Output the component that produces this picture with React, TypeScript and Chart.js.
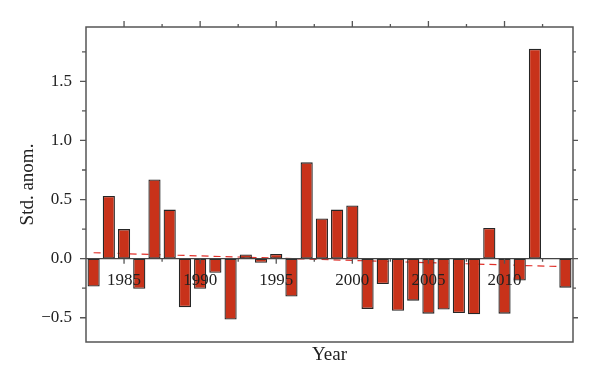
import React, { useEffect, useRef } from 'react';
import { Chart, registerables } from 'chart.js';

Chart.register(...registerables);

const years = [
  1983, 1984, 1985, 1986, 1987, 1988, 1989, 1990, 1991, 1992, 1993, 1994, 1995, 1996, 1997, 1998,
  1999, 2000, 2001, 2002, 2003, 2004, 2005, 2006, 2007, 2008, 2009, 2010, 2011, 2012, 2013, 2014,
];
const anomalies = [
  -0.235, 0.53, 0.25, -0.255, 0.67, 0.415, -0.41, -0.255, -0.12, -0.515, 0.035, -0.035, 0.04, -0.32, 0.815, 0.34,
  0.415, 0.45, -0.425, -0.215, -0.44, -0.355, -0.465, -0.43, -0.46, -0.47, 0.26, -0.465, -0.185, 1.775, 0.005, -0.245,
];
const trendYears = [1983, 2014];
const trendValues = [0.05, -0.068];
const xMajorTicks = [1985, 1990, 1995, 2000, 2005, 2010];
const xMinorTicks = [1987.5, 1992.5, 1997.5, 2002.5, 2007.5, 2012.5];
const yMajorTicks = [-0.5, 0, 0.5, 1.0, 1.5];
const yMinorTicks = [-0.25, 0.25, 0.75, 1.25, 1.75];
const xLabel = 'Year';
const yLabel = 'Std. anom.';

const FONT = '"Liberation Serif", "Times New Roman", serif';
const TEXT = '#222222';
const FRAME = '#555555';

const framePlugin = {
  id: 'frameTicks',
  afterDatasetsDraw(chart: any) {
    const { ctx, chartArea } = chart;
    const { left, right, top, bottom } = chartArea;
    const xs = chart.scales.x;
    const ys = chart.scales.y;
    const y0 = ys.getPixelForValue(0);
    ctx.save();
    ctx.strokeStyle = '#444444';
    ctx.lineWidth = 1.2;
    ctx.beginPath();
    ctx.moveTo(left, y0);
    ctx.lineTo(right, y0);
    ctx.stroke();
    ctx.strokeStyle = FRAME;
    ctx.lineWidth = 1.3;
    ctx.beginPath();
    xMajorTicks.forEach((v) => {
      const px = xs.getPixelForValue(v);
      ctx.moveTo(px, y0);
      ctx.lineTo(px, y0 + 5);
      ctx.moveTo(px, top);
      ctx.lineTo(px, top - 6);
    });
    xMinorTicks.forEach((v) => {
      const px = xs.getPixelForValue(v);
      ctx.moveTo(px, y0);
      ctx.lineTo(px, y0 + 3);
      ctx.moveTo(px, top);
      ctx.lineTo(px, top - 3);
    });
    yMajorTicks.forEach((v) => {
      const py = ys.getPixelForValue(v);
      ctx.moveTo(left, py);
      ctx.lineTo(left - 6, py);
      ctx.moveTo(right, py);
      ctx.lineTo(right + 5, py);
    });
    yMinorTicks.forEach((v) => {
      const py = ys.getPixelForValue(v);
      ctx.moveTo(left, py);
      ctx.lineTo(left - 4, py);
      ctx.moveTo(right, py);
      ctx.lineTo(right + 3, py);
    });
    ctx.stroke();
    ctx.lineWidth = 1.5;
    ctx.strokeRect(left, top, right - left, bottom - top);
    ctx.restore();
  },
};

export default function App() {
  const canvasRef = useRef<HTMLCanvasElement | null>(null);

  useEffect(() => {
    if (!canvasRef.current) return;
    const chart = new Chart(canvasRef.current, {
      type: 'bar',
      data: {
        datasets: [
          {
            type: 'bar',
            data: years.map((y, i) => ({ x: y, y: anomalies[i] })),
            backgroundColor: '#c8321a',
            borderColor: '#262626',
            borderWidth: 1.3,
            borderSkipped: false,
            barPercentage: 0.8,
            categoryPercentage: 1,
            xAxisID: 'x',
            yAxisID: 'y',
            order: 1,
          } as any,
          {
            type: 'line',
            data: trendYears.map((y, i) => ({ x: y, y: trendValues[i] })),
            borderColor: '#e0302a',
            borderWidth: 1.2,
            borderDash: [7, 5],
            pointRadius: 0,
            fill: false,
            xAxisID: 'x',
            yAxisID: 'y',
            order: 2,
          } as any,
        ],
      },
      options: {
        animation: false,
        responsive: true,
        maintainAspectRatio: false,
        layout: { padding: { top: 27, right: 27, left: 0, bottom: 0 } },
        plugins: { legend: { display: false }, tooltip: { enabled: false } },
        scales: {
          x: {
            type: 'linear',
            position: { y: 0 } as any,
            min: 1982.5,
            max: 2014.5,
            offset: false,
            afterBuildTicks: (s: any) => {
              s.ticks = xMajorTicks.map((v) => ({ value: v }));
            },
            ticks: {
              callback: (v: any) => String(v),
              font: { family: FONT, size: 17 },
              color: TEXT,
              padding: 12,
              maxRotation: 0,
              autoSkip: false,
              z: 2,
            },
            grid: { display: false, drawTicks: false },
            border: { display: false },
          },
          xb: {
            type: 'linear',
            position: 'bottom',
            min: 1982.5,
            max: 2014.5,
            offset: false,
            afterFit: (s: any) => {
              s.height = 42;
            },
            ticks: { display: false },
            grid: { display: false, drawTicks: false },
            border: { display: false },
            title: {
              display: true,
              text: xLabel,
              font: { family: FONT, size: 19 },
              color: TEXT,
              padding: { top: 0, bottom: 18 },
            },
          },
          y: {
            type: 'linear',
            position: 'left',
            min: -0.705,
            max: 1.96,
            afterFit: (s: any) => {
              s.width = 86;
            },
            afterBuildTicks: (s: any) => {
              s.ticks = yMajorTicks.map((v) => ({ value: v }));
            },
            ticks: {
              callback: (v: any) => {
                const n = Number(v);
                const t = Math.abs(n).toFixed(1);
                return n < 0 ? '\u2212' + t : t;
              },
              font: { family: FONT, size: 17 },
              color: TEXT,
              padding: 14,
            },
            grid: { display: false, drawTicks: false },
            border: { display: false },
            title: {
              display: true,
              text: yLabel,
              font: { family: FONT, size: 19 },
              color: TEXT,
              padding: { top: 17, bottom: 0 },
            },
          },
        },
      } as any,
      plugins: [framePlugin],
    });
    return () => chart.destroy();
  }, []);

  return (
    <div style={{ position: 'absolute', left: 0, top: 0, width: 600, height: 384, background: '#ffffff' }}>
      <canvas ref={canvasRef} />
    </div>
  );
}
